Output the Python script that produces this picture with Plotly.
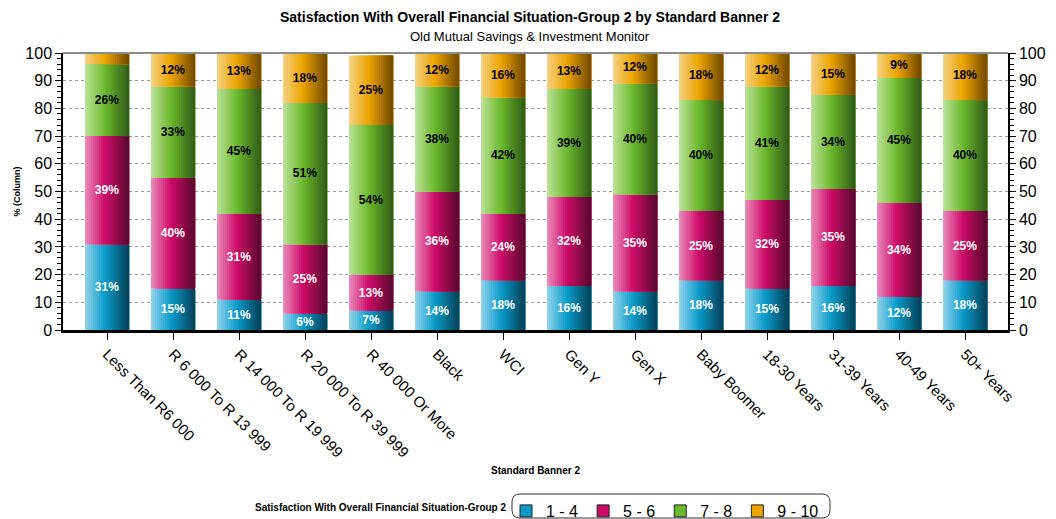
import plotly.graph_objects as go

# Standard Banner 2 groups and share of respondents per satisfaction band (%)
categories = [
    "Less Than R6 000", "R 6 000 To R 13 999", "R 14 000 To R 19 999",
    "R 20 000 To R 39 999", "R 40 000 Or More", "Black", "WCI", "Gen Y",
    "Gen X", "Baby Boomer", "18-30 Years", "31-39 Years", "40-49 Years",
    "50+ Years",
]
band_1_4 = [31, 15, 11, 6, 7, 14, 18, 16, 14, 18, 15, 16, 12, 18]
band_5_6 = [39, 40, 31, 25, 13, 36, 24, 32, 35, 25, 32, 35, 34, 25]
band_7_8 = [26, 33, 45, 51, 54, 38, 42, 39, 40, 40, 41, 34, 45, 40]
band_9_10 = [4, 12, 13, 18, 25, 12, 16, 13, 12, 18, 12, 15, 9, 18]

series_names = ["1 - 4", "5 - 6", "7 - 8", "9 - 10"]
series_values = [band_1_4, band_5_6, band_7_8, band_9_10]
y_ticks = list(range(0, 101, 10))

# (light edge, main colour, dark edge) for the cylinder shading of each band
palettes = [
    ("#92d4ec", "#0a9bc9", "#053f55"),
    ("#ea8cba", "#cd0b68", "#560a2c"),
    ("#bce29a", "#6cb92d", "#2f5a17"),
    ("#f6d283", "#eca400", "#704800"),
]
label_colours = ["white", "white", "black", "black"]
swatch_colours = ["#0a9bc9", "#cd0b68", "#6cb92d", "#eca400"]

FONT = "Liberation Sans, Arial, sans-serif"
BAR_W = 0.667
STRIPS = 22

# plot area in pixels (used to place the legend frame and captions)
W, H = 1056, 519
M_L, M_R, M_T, M_B = 63, 48, 53, 189
PLOT_W = W - M_L - M_R
PLOT_H = H - M_T - M_B


def px_x(px):
    return (px - M_L) / PLOT_W


def px_y(py):
    return (H - M_B - py) / PLOT_H


def hex_rgb(h):
    h = h.lstrip("#")
    return tuple(int(h[i:i + 2], 16) for i in (0, 2, 4))


def shade(pal, t):
    stops = [(0.0, hex_rgb(pal[0])), (0.45, hex_rgb(pal[1])), (1.0, hex_rgb(pal[2]))]
    for (t0, c0), (t1, c1) in zip(stops, stops[1:]):
        if t <= t1:
            f = (t - t0) / (t1 - t0)
            c = [round(a + (b - a) * f) for a, b in zip(c0, c1)]
            return "rgb({},{},{})".format(*c)
    return "rgb({},{},{})".format(*stops[-1][1])


fig = go.Figure()

bases = [0] * len(categories)
for name, vals, pal, lab_col in zip(series_names, series_values, palettes, label_colours):
    seg_base = list(bases)
    # overlapping bars, each starting a little further right, build the shading
    for k in range(STRIPS):
        t = (k + 0.5) / STRIPS
        start = -BAR_W / 2 + k * BAR_W / STRIPS
        fig.add_trace(go.Bar(
            x=categories, y=vals, base=seg_base,
            width=BAR_W / 2 - start, offset=start,
            marker=dict(color=shade(pal, t), line=dict(width=0)),
            showlegend=False, hoverinfo="skip",
        ))
    # value labels centred in each segment
    fig.add_trace(go.Bar(
        x=categories, y=vals, base=seg_base, width=BAR_W, offset=-BAR_W / 2,
        marker=dict(color="rgba(0,0,0,0)", line=dict(width=0)),
        texttemplate=["%{y}%" if v >= 5 else "" for v in vals],
        textposition="inside", insidetextanchor="middle", textangle=0,
        constraintext="none",
        textfont=dict(family=FONT, size=12, color=lab_col, weight="bold"),
        showlegend=False, name=name,
        hovertemplate="%{x}<br>" + name + ": %{y}%<extra></extra>",
    ))
    bases = [b + v for b, v in zip(bases, vals)]

# legend entries (also anchor the right-hand axis)
for name, col in zip(series_names, swatch_colours):
    fig.add_trace(go.Bar(
        x=[None], y=[None], name=name, yaxis="y2",
        marker=dict(color=col, line=dict(color="#222222", width=1)),
    ))

axis_common = dict(
    range=[0, 100], tickvals=y_ticks, ticks="outside", ticklen=6,
    tickwidth=1, tickcolor="black", showline=True, linecolor="black",
    linewidth=1.5, tickfont=dict(family=FONT, size=16, color="black"),
    minor=dict(dtick=2, ticks="outside", ticklen=4, tickcolor="black", showgrid=False),
    zeroline=False, fixedrange=True, automargin=False,
)

LEG_LEFT = 506
LEG_TOP = 494
LEG_BOX_W = 318

fig.update_layout(
    width=W, height=H,
    margin=dict(l=M_L, r=M_R, t=M_T, b=M_B, autoexpand=False),
    paper_bgcolor="white", plot_bgcolor="white",
    barmode="overlay",
    title=dict(
        text="<b>Satisfaction With Overall Financial Situation-Group 2 by Standard Banner 2</b>",
        x=530 / W, xanchor="center",
        xref="container", yref="container", y=1 - 17 / H, yanchor="middle",
        font=dict(family=FONT, size=14, color="black"),
    ),
    xaxis=dict(
        type="category", range=[-0.667, 13.65], tickangle=45,
        ticks="outside", ticklen=7, tickcolor="black",
        showline=True, linecolor="black", linewidth=2.5,
        tickfont=dict(family=FONT, size=15, color="black"),
        title=dict(text="<b>Standard Banner 2</b>", font=dict(family=FONT, size=10, color="black"),
                   standoff=8),
        showgrid=False, fixedrange=True, automargin=False,
    ),
    yaxis=dict(
        **axis_common, side="left", showgrid=True, gridcolor="#9a9a9a",
        griddash="dot", gridwidth=1,
        title=dict(text="<b>% (Column)</b>", font=dict(family=FONT, size=9, color="black"),
                   standoff=3),
    ),
    yaxis2=dict(**axis_common, side="right", overlaying="y", showgrid=False),
    showlegend=True,
    legend=dict(
        orientation="h", x=px_x(LEG_LEFT), xanchor="left", y=px_y(LEG_TOP), yanchor="top",
        font=dict(family=FONT, size=16, color="black"),
        bgcolor="rgba(0,0,0,0)", borderwidth=0, traceorder="normal",
    ),
    shapes=[
        # grey top edge of the plotting area
        dict(type="line", xref="paper", yref="paper", x0=0, x1=1, y0=1, y1=1,
             line=dict(color="#8c8c8c", width=2)),
        # rounded frame around the legend entries
        dict(type="path", xref="paper", yref="paper",
             xsizemode="pixel", ysizemode="pixel",
             xanchor=px_x(LEG_LEFT + 6), yanchor=px_y(LEG_TOP),
             path=("M 8,0 L {w},0 Q {w8},0 {w8},-8 L {w8},-16 Q {w8},-24 {w},-24 "
                   "L 8,-24 Q 0,-24 0,-16 L 0,-8 Q 0,0 8,0 Z").format(
                       w=LEG_BOX_W - 8, w8=LEG_BOX_W),
             line=dict(color="#333333", width=1), fillcolor="rgba(0,0,0,0)"),
    ],
    annotations=[
        dict(text="Old Mutual Savings & Investment Monitor",
             xref="paper", yref="paper", x=px_x(530), xanchor="center",
             y=px_y(36), yanchor="middle", showarrow=False,
             font=dict(family=FONT, size=13, color="black")),
        dict(text="<b>Satisfaction With Overall Financial Situation-Group 2</b>",
             xref="paper", yref="paper", x=px_x(LEG_LEFT + 2), xanchor="right",
             y=px_y(507), yanchor="middle", showarrow=False,
             font=dict(family=FONT, size=10, color="black")),
    ],
)

fig.write_html("out.html")
